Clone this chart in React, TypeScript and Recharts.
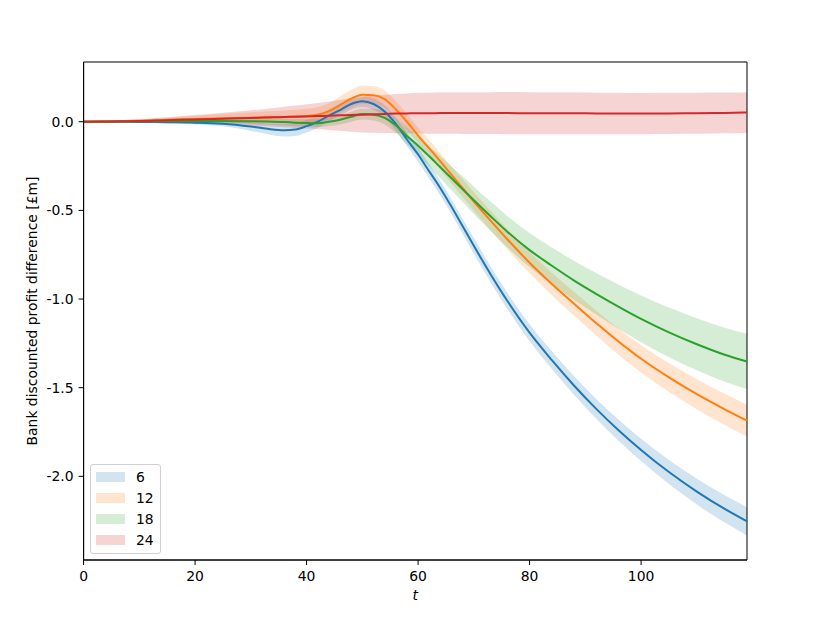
import { ComposedChart, Area, Line, XAxis, YAxis, Legend, ReferenceArea } from "recharts";

// horizon t
const T = [
  0, 5, 10, 15, 20, 25, 30, 33, 36, 38, 40, 42, 44, 46, 48, 50, 52, 54, 56, 58,
  60, 62, 64, 66, 68, 70, 73, 76, 80, 84, 88, 92, 96, 100, 105, 110, 115, 119,
];

// mean profit difference per maturity
const mean6 = [
  0, 0, -0.001, -0.003, -0.005, -0.011, -0.027, -0.04, -0.048, -0.044, -0.025, 0.0,
  0.035, 0.066, 0.1, 0.115, 0.1, 0.058, -0.012, -0.1, -0.185, -0.28, -0.375, -0.48,
  -0.59, -0.7, -0.86, -1.01, -1.19, -1.345, -1.489, -1.621, -1.741, -1.851, -1.976,
  -2.086, -2.184, -2.254,
];
const mean12 = [
  0, 0.002, 0.006, 0.011, 0.016, 0.02, 0.023, 0.025, 0.027, 0.029, 0.033, 0.04,
  0.06, 0.095, 0.13, 0.152, 0.15, 0.128, 0.07, 0.0, -0.078, -0.15, -0.224, -0.3,
  -0.375, -0.45, -0.558, -0.663, -0.795, -0.915, -1.027, -1.137, -1.241, -1.337,
  -1.442, -1.537, -1.622, -1.686,
];
const mean18 = [
  0, 0.001, 0.002, 0.003, 0.004, 0.004, 0.003, 0.001, -0.002, -0.005, -0.007,
  -0.008, 0.0, 0.011, 0.028, 0.043, 0.04, 0.022, -0.02, -0.08, -0.135, -0.195,
  -0.257, -0.319, -0.381, -0.443, -0.533, -0.62, -0.724, -0.812, -0.896, -0.972,
  -1.044, -1.112, -1.188, -1.255, -1.314, -1.352,
];
const mean24 = [
  0, 0.002, 0.004, 0.009, 0.013, 0.017, 0.021, 0.024, 0.027, 0.028, 0.03, 0.032,
  0.034, 0.036, 0.038, 0.04, 0.042, 0.044, 0.046, 0.047, 0.048, 0.048, 0.049,
  0.049, 0.049, 0.049, 0.049, 0.049, 0.048, 0.048, 0.048, 0.047, 0.047, 0.046,
  0.047, 0.048, 0.05, 0.052,
];

// half width of the shaded band
const sd6 = [
  0, 0.001, 0.003, 0.006, 0.01, 0.015, 0.025, 0.03, 0.035, 0.036, 0.036, 0.035,
  0.034, 0.033, 0.032, 0.032, 0.033, 0.035, 0.037, 0.038, 0.04, 0.04, 0.041, 0.042,
  0.043, 0.044, 0.045, 0.046, 0.048, 0.05, 0.053, 0.056, 0.06, 0.063, 0.068, 0.073,
  0.077, 0.08,
];
const sd12 = [
  0, 0.002, 0.006, 0.012, 0.018, 0.024, 0.03, 0.034, 0.037, 0.039, 0.04, 0.042,
  0.045, 0.048, 0.05, 0.052, 0.05, 0.048, 0.046, 0.045, 0.045, 0.046, 0.047, 0.048,
  0.05, 0.052, 0.054, 0.056, 0.06, 0.063, 0.067, 0.07, 0.074, 0.077, 0.081, 0.085,
  0.088, 0.09,
];
const sd18 = [
  0, 0.001, 0.003, 0.006, 0.009, 0.012, 0.015, 0.017, 0.019, 0.02, 0.021, 0.022,
  0.024, 0.026, 0.028, 0.03, 0.033, 0.037, 0.042, 0.047, 0.052, 0.057, 0.062, 0.067,
  0.072, 0.077, 0.083, 0.089, 0.096, 0.103, 0.11, 0.117, 0.125, 0.132, 0.14, 0.147,
  0.152, 0.155,
];
const sd24 = [
  0, 0.004, 0.01, 0.017, 0.025, 0.034, 0.044, 0.05, 0.058, 0.063, 0.068, 0.074,
  0.08, 0.087, 0.094, 0.1, 0.104, 0.108, 0.111, 0.113, 0.115, 0.116, 0.117, 0.117,
  0.118, 0.118, 0.118, 0.119, 0.119, 0.118, 0.118, 0.117, 0.117, 0.116, 0.116,
  0.116, 0.115, 0.115,
];

const X_TICKS = [0, 20, 40, 60, 80, 100];
const Y_TICKS = [-2, -1.5, -1, -0.5, 0];
const X_DOMAIN = [0, 119];
const Y_DOMAIN = [-2.472, 0.337];

const SERIES = [
  { key: "6", mean: mean6, sd: sd6, color: "#1f77b4" },
  { key: "12", mean: mean12, sd: sd12, color: "#ff7f0e" },
  { key: "18", mean: mean18, sd: sd18, color: "#2ca02c" },
  { key: "24", mean: mean24, sd: sd24, color: "#d62728" },
];

const data = T.map((t, i) => {
  const row: any = { t };
  SERIES.forEach((s) => {
    row["m" + s.key] = s.mean[i];
    row["b" + s.key] = [s.mean[i] - s.sd[i], s.mean[i] + s.sd[i]];
  });
  return row;
});

const FONT = "'DejaVu Sans', sans-serif";
const FS = 13.9;

function YLabel() {
  return (
    <text
      x={37}
      y={311}
      transform="rotate(-90, 37, 311)"
      textAnchor="middle"
      fontSize={FS}
      fontFamily={FONT}
      fill="#000"
    >
      Bank discounted profit difference [£m]
    </text>
  );
}

function XLabel() {
  return (
    <text
      x={415.3}
      y={600}
      textAnchor="middle"
      fontSize={FS}
      fontFamily={FONT}
      fontStyle="italic"
      fill="#000"
    >
      t
    </text>
  );
}

function LegendBox() {
  return (
    <div
      style={{
        position: "relative",
        width: 69,
        height: 88,
        border: "1px solid #d0d0d0",
        borderRadius: 3,
        background: "rgba(255,255,255,0.8)",
        fontFamily: FONT,
        fontSize: FS,
        color: "#000",
      }}
    >
      {SERIES.map((s, i) => (
        <div
          key={s.key}
          style={{
            position: "absolute",
            left: 0,
            top: 1.5 + i * 21.1,
            height: 21,
            display: "flex",
            alignItems: "center",
          }}
        >
          <span
            style={{
              display: "inline-block",
              marginLeft: 5,
              width: 29,
              height: 10,
              background: s.color,
              opacity: 0.2,
            }}
          />
          <span style={{ marginLeft: 11, lineHeight: "21px" }}>{s.key}</span>
        </div>
      ))}
    </div>
  );
}

export default function App() {
  return (
    <div style={{ width: 830, height: 623, background: "#fff" }}>
      <style>{`body{margin:0}`}</style>
      <ComposedChart
        width={830}
        height={623}
        data={data}
        margin={{ top: 62, right: 83, bottom: 23, left: 0 }}
        style={{ fontFamily: FONT }}
      >
        <XAxis
          dataKey="t"
          type="number"
          domain={X_DOMAIN}
          ticks={X_TICKS}
          height={40}
          tickSize={5}
          tickMargin={6}
          stroke="#000"
          tick={{ fontSize: FS, fill: "#000", fontFamily: FONT }}
          label={<XLabel />}
        />
        <YAxis
          type="number"
          domain={Y_DOMAIN}
          allowDataOverflow
          ticks={Y_TICKS}
          width={83.6}
          tickSize={5}
          tickMargin={5}
          stroke="#000"
          tickFormatter={(v: number) => v.toFixed(1)}
          tick={{ fontSize: FS, fill: "#000", fontFamily: FONT }}
          label={<YLabel />}
        />
        {SERIES.flatMap((s) => [
          <Area
            key={"b" + s.key}
            type="monotone"
            dataKey={"b" + s.key}
            stroke="none"
            fill={s.color}
            fillOpacity={0.2}
            isAnimationActive={false}
            activeDot={false}
          />,
          <Line
            key={"m" + s.key}
            type="monotone"
            dataKey={"m" + s.key}
            stroke={s.color}
            strokeWidth={2}
            dot={false}
            activeDot={false}
            isAnimationActive={false}
          />,
        ])}
        {/* axes frame (top and right spines) */}
        <ReferenceArea
          x1={X_DOMAIN[0]}
          x2={X_DOMAIN[1]}
          y1={Y_DOMAIN[0]}
          y2={Y_DOMAIN[1]}
          fill="none"
          stroke="#000"
          strokeWidth={1}
        />
        <Legend
          layout="vertical"
          align="center"
          verticalAlign="middle"
          wrapperStyle={{ left: 90, top: 464, width: "auto" }}
          content={() => <LegendBox />}
        />
      </ComposedChart>
    </div>
  );
}
